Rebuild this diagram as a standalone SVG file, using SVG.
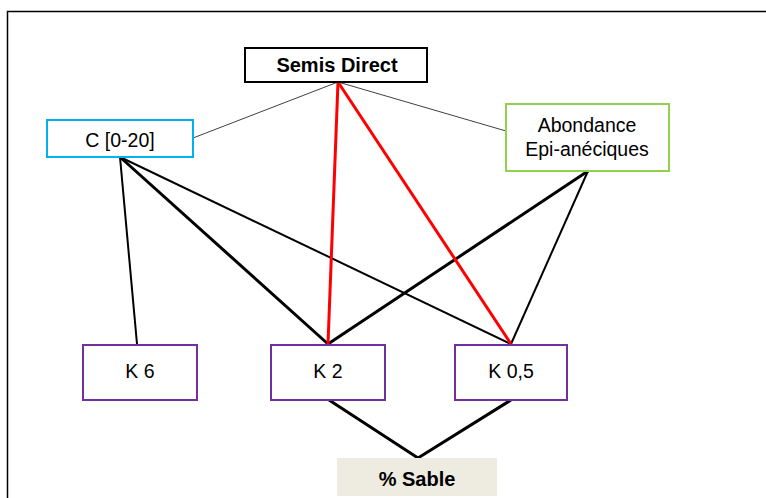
<svg xmlns="http://www.w3.org/2000/svg" width="766" height="498" viewBox="0 0 766 498">
<style>
text{font-family:"Liberation Sans",Arial,sans-serif;font-size:19.5px;fill:#000;text-anchor:middle;dominant-baseline:central}
.b{font-weight:bold;font-size:20px}
.box{fill:#fff;stroke-width:2}
.k{stroke:#7030A0}
.thin{stroke:#404040;stroke-width:1;fill:none}
.red{stroke:#FF0000;stroke-width:3;fill:none}
.blk{stroke:#000;stroke-width:2;fill:none}
.blk3{stroke:#000;stroke-width:3;fill:none}
</style>
<rect x="0" y="0" width="766" height="498" fill="#fff"/>
<rect x="7.5" y="11.5" width="770" height="500" fill="none" stroke="#000" stroke-width="1.5"/>
<g id="connectors">
<line class="thin" x1="338" y1="82" x2="193" y2="138"/>
<line class="thin" x1="338" y1="82" x2="506" y2="131"/>
<line class="blk" x1="120" y1="157" x2="137" y2="344"/>
<line class="blk3" x1="120" y1="157" x2="328" y2="344"/>
<line class="blk" x1="120" y1="157" x2="511" y2="344"/>
<line class="blk3" x1="588" y1="171" x2="328" y2="344"/>
<line class="blk" x1="588" y1="171" x2="511" y2="344"/>
<line class="red" x1="338" y1="82" x2="328" y2="344"/>
<line class="red" x1="338" y1="82" x2="511" y2="344"/>
<polyline class="blk3" points="329,400 418,458 511,400"/>
</g>
<g id="semis">
<rect class="box" x="245" y="48" width="182" height="34" stroke="#000"/>
<text class="b" x="337" y="65">Semis Direct</text>
</g>
<g id="c020">
<rect class="box" x="47" y="120" width="146" height="37" stroke="#00B0F0"/>
<text x="120" y="140">C [0-20]</text>
</g>
<g id="abondance">
<rect class="box" x="506" y="104" width="163" height="67" stroke="#92D050"/>
<text x="587" y="125">Abondance</text>
<text x="587" y="149">Epi-anéciques</text>
</g>
<g id="k6">
<rect class="box k" x="83" y="345" width="114" height="55"/>
<text x="140" y="371">K 6</text>
</g>
<g id="k2">
<rect class="box k" x="271" y="345" width="114" height="55"/>
<text x="328" y="371">K 2</text>
</g>
<g id="k05">
<rect class="box k" x="455" y="345" width="112" height="55"/>
<text x="511" y="371">K 0,5</text>
</g>
<g id="sable">
<rect x="337" y="458" width="160" height="38" fill="#EEECE1"/>
<text class="b" x="417" y="479">% Sable</text>
</g>
</svg>
